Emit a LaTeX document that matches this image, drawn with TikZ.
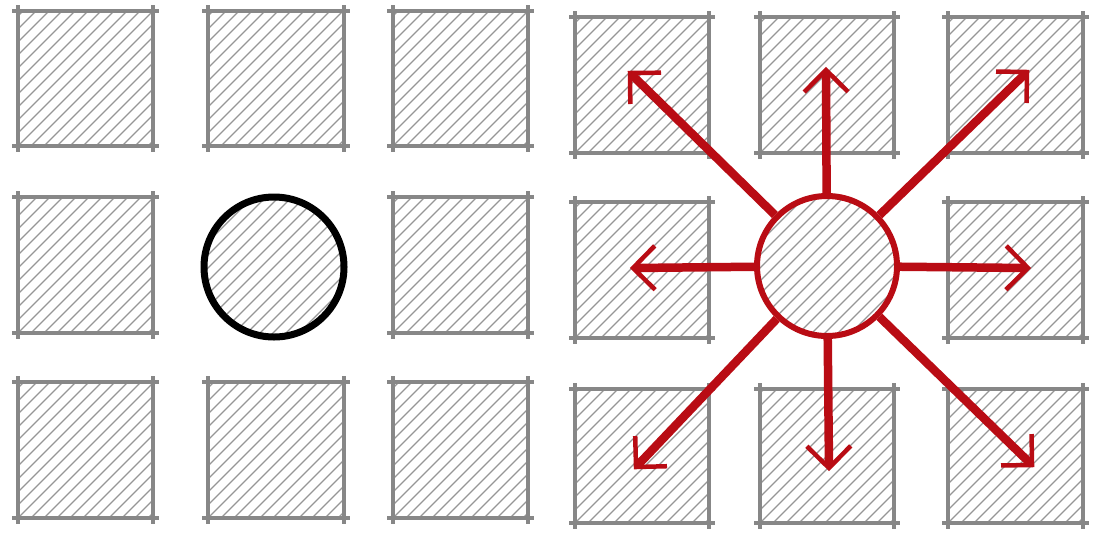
\documentclass[tikz,border=0pt]{standalone}
\usetikzlibrary{calc}
\definecolor{sqgray}{RGB}{135,135,135}
\definecolor{hatchgray}{RGB}{150,150,150}
\definecolor{arrred}{RGB}{185,12,20}
\tikzset{
  edgeline/.style={draw=sqgray, line width=3.6pt},
  hatchline/.style={draw=hatchgray, line width=1.2pt},
  shaft/.style={draw=arrred, line width=8.5pt, shorten >=3pt},
  barb/.style={draw=arrred, line width=4.5pt, line join=miter, line cap=butt},
  blackcirc/.style={circle, draw=black, line width=7pt, minimum size=140pt, inner sep=0pt},
  redcirc/.style={circle, draw=arrred, line width=6pt, minimum size=140pt, inner sep=0pt},
}
\newcommand\hatchsq[4]{%
  \begin{scope}
    \clip (#1,#2) rectangle (#3,#4);
    \foreach \k in {-156,-143,...,156} \draw[hatchline] ({#1+\k},#4) -- ++(170,-170);
  \end{scope}
  \draw[edgeline] ({#1-6},#2) -- ({#3+6},#2);
  \draw[edgeline] ({#1-6},#4) -- ({#3+6},#4);
  \draw[edgeline] (#1,{#2-6}) -- (#1,{#4+6});
  \draw[edgeline] (#3,{#2-6}) -- (#3,{#4+6});
}
\newcommand\hatchcirc[3]{%
  \begin{scope}
    \clip (#1,#2) circle (#3pt);
    \foreach \k in {-156,-143,...,156} \draw[hatchline] ({#1+\k-80},{#2+80}) -- ++(170,-170);
  \end{scope}
}
\begin{document}
\begin{tikzpicture}[x=1pt,y=-1pt]
\useasboundingbox (0,0) rectangle (1099,547);
% left grid
\hatchsq{18}{11}{153}{146}
\hatchsq{208}{11}{344}{146}
\hatchsq{393}{11}{528}{146}
\hatchsq{18}{197}{153}{333}
\hatchsq{393}{197}{528}{333}
\hatchsq{18}{382}{153}{518}
\hatchsq{208}{382}{344}{518}
\hatchsq{393}{382}{528}{518}
\hatchcirc{274}{267}{70}
\node[blackcirc] (lc) at (274,267) {};
% right grid
\hatchsq{575}{17}{709}{153}
\hatchsq{760}{17}{894}{153}
\hatchsq{948}{17}{1083}{153}
\hatchsq{575}{202}{709}{338}
\hatchsq{948}{202}{1083}{338}
\hatchsq{575}{389}{709}{523}
\hatchsq{760}{389}{894}{523}
\hatchsq{948}{389}{1083}{523}
\hatchcirc{827}{266}{70}
\node[redcirc] (rc) at (827,266) {};
% arrow tips
\coordinate (tU) at (826,70);
\coordinate (tUL) at (630,73);
\coordinate (tUR) at (1027,72);
\coordinate (tL) at (633,268);
\coordinate (tR) at (1028,268);
\coordinate (tDL) at (636,467);
\coordinate (tD) at (829,468);
\coordinate (tDR) at (1032,465);
\foreach \t in {tU,tUL,tUR,tL,tR,tDL,tD,tDR}{
  \draw[shaft] (rc) -- (\t);
  \draw[barb] ($(\t)!31pt!45:(rc.center)$) -- (\t) -- ($(\t)!31pt!-45:(rc.center)$);
}
\end{tikzpicture}
\end{document}
